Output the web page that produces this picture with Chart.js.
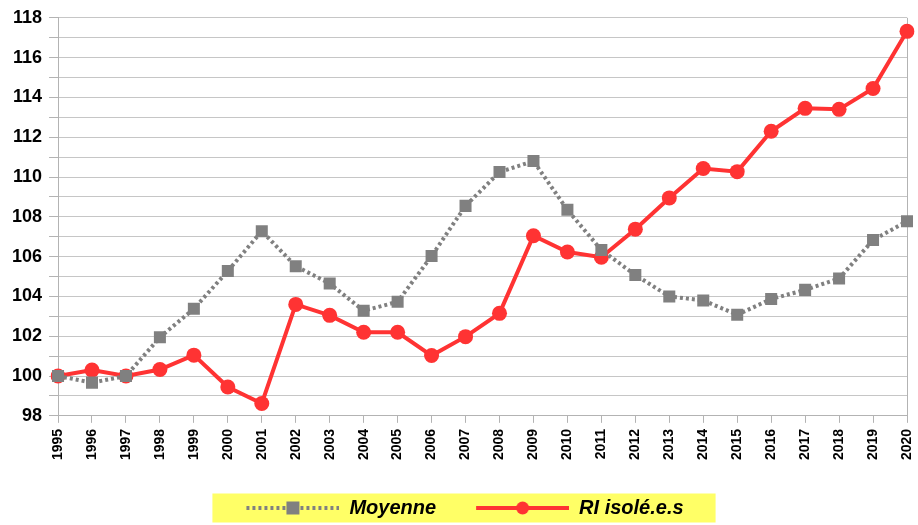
<!DOCTYPE html>
<html>
<head>
<meta charset="utf-8">
<script src="https://cdn.jsdelivr.net/npm/chart.js@4"></script>
<style>
  html, body { margin: 0; padding: 0; background: #ffffff; }
  #wrap { width: 918px; height: 525px; position: relative; }
</style>
</head>
<body>
<div id="wrap"><canvas id="c" width="918" height="525"></canvas></div>
<script>
const years = ['1995','1996','1997','1998','1999','2000','2001','2002','2003','2004','2005','2006','2007','2008','2009','2010','2011','2012','2013','2014','2015','2016','2017','2018','2019','2020'];
const moyenne = [100, 99.67, 100.0, 101.95, 103.38, 105.28, 107.28, 105.52, 104.65, 103.28, 103.73, 106.03, 108.55, 110.25, 110.8, 108.35, 106.33, 105.08, 104.0, 103.8, 103.08, 103.87, 104.33, 104.9, 106.83, 107.78];
const riIsoles = [100, 100.3, 100.0, 100.33, 101.05, 99.45, 98.62, 103.6, 103.05, 102.2, 102.2, 101.03, 101.98, 103.15, 107.05, 106.23, 105.97, 107.38, 108.95, 110.43, 110.27, 112.3, 113.45, 113.4, 114.45, 117.32];
const seriesNames = ['Moyenne', 'RI isolé.e.s'];

const GRAY = '#808080';
const RED = '#ff3333';
const LEG_PAD = 30;
const LEG_SHIFT_X = -6;
const LEG_SHIFT_Y = 6;

function legendImg(kind) {
  const c = document.createElement('canvas');
  c.width = 93 + LEG_PAD; c.height = 20;
  const g = c.getContext('2d');
  const x0 = LEG_PAD, x1 = c.width, mid = (x0 + x1) / 2;
  if (kind === 'gray') {
    g.strokeStyle = GRAY; g.lineWidth = 4; g.setLineDash([3, 3]);
    g.beginPath(); g.moveTo(x0, 10); g.lineTo(x1, 10); g.stroke();
    g.fillStyle = GRAY; g.fillRect(mid - 6.5, 3.5, 13, 13);
  } else {
    g.strokeStyle = RED; g.lineWidth = 4;
    g.beginPath(); g.moveTo(x0, 10); g.lineTo(x1, 10); g.stroke();
    g.fillStyle = RED; g.beginPath(); g.arc(mid, 10, 6.5, 0, Math.PI * 2); g.fill();
  }
  return c;
}
const legImgs = [legendImg('gray'), legendImg('red')];

const legendAdjust = {
  id: 'legendAdjust',
  afterUpdate(chart) {
    const lg = chart.legend;
    if (!lg) return;
    lg.left += LEG_SHIFT_X; lg.right += LEG_SHIFT_X;
    lg.top += LEG_SHIFT_Y; lg.bottom += LEG_SHIFT_Y;
    (lg.legendHitBoxes || []).forEach((h) => { h.left += LEG_SHIFT_X; h.top += LEG_SHIFT_Y; });
  },
  beforeDraw(chart) {
    const lg = chart.legend;
    if (!lg || !lg.legendHitBoxes || !lg.legendHitBoxes.length) return;
    const hb = lg.legendHitBoxes;
    const left = hb[0].left + LEG_PAD - 34;
    const right = hb[hb.length - 1].left + hb[hb.length - 1].width + 32;
    const cy = hb[0].top + hb[0].height / 2;
    const ctx = chart.ctx;
    ctx.save();
    ctx.fillStyle = '#ffff66';
    ctx.fillRect(left, cy - 14.5, right - left, 29);
    ctx.restore();
  }
};

new Chart(document.getElementById('c'), {
  type: 'line',
  data: {
    labels: years,
    datasets: [
      {
        label: seriesNames[0],
        data: moyenne,
        borderColor: GRAY,
        backgroundColor: GRAY,
        borderWidth: 4,
        borderDash: [3, 3],
        pointStyle: 'rect',
        pointRadius: 8.5,
        pointBorderWidth: 0,
        pointBackgroundColor: GRAY,
        tension: 0,
        fill: false
      },
      {
        label: seriesNames[1],
        data: riIsoles,
        borderColor: RED,
        backgroundColor: RED,
        borderWidth: 4,
        pointStyle: 'circle',
        pointRadius: 7.5,
        pointBorderWidth: 0,
        pointBackgroundColor: RED,
        tension: 0,
        fill: false
      }
    ]
  },
  options: {
    responsive: false,
    animation: false,
    events: [],
    layout: { padding: { left: 5, right: 11, top: 7, bottom: 3 } },
    plugins: {
      tooltip: { enabled: false },
      legend: {
        position: 'bottom',
        labels: {
          usePointStyle: true,
          pointStyleWidth: 93 + LEG_PAD,
          padding: 10,
          color: '#000',
          font: { family: '"Liberation Sans", Arial, sans-serif', size: 20, weight: 'bold', style: 'italic' },
          generateLabels(chart) {
            const items = Chart.defaults.plugins.legend.labels.generateLabels(chart);
            items.forEach((it, i) => { it.pointStyle = legImgs[i]; it.fontColor = '#000'; });
            return items;
          }
        }
      }
    },
    scales: {
      x: {
        type: 'category',
        offset: false,
        afterFit: (scale) => { scale.height += 16; scale.paddingLeft = 0; scale.paddingRight = 0; },
        border: { color: '#b3b3b3', width: 1 },
        grid: {
          drawOnChartArea: true,
          color: (ctx) => (ctx.index === years.length - 1 ? '#b3b3b3' : 'rgba(0,0,0,0)'),
          tickColor: '#b3b3b3',
          tickLength: 7
        },
        ticks: {
          autoSkip: false,
          maxRotation: 90,
          minRotation: 90,
          padding: 6,
          color: '#000',
          font: { family: '"Liberation Sans", Arial, sans-serif', size: 14, weight: 'bold' }
        }
      },
      y: {
        min: 98,
        max: 118,
        border: { color: '#b3b3b3', width: 1 },
        grid: { color: '#c6c6c6', tickColor: '#b3b3b3', tickLength: 9 },
        ticks: {
          stepSize: 1,
          autoSkip: false,
          padding: 7,
          color: '#000',
          font: { family: '"Liberation Sans", Arial, sans-serif', size: 18, weight: 'bold' },
          callback: (v) => (v % 2 === 0 ? String(v) : '')
        }
      }
    }
  },
  plugins: [legendAdjust]
});
</script>
</body>
</html>
